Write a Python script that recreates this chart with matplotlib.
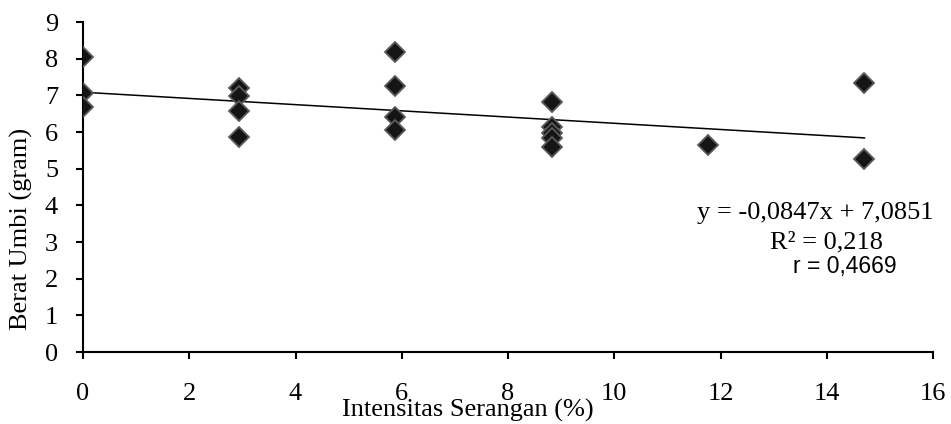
import matplotlib.pyplot as plt

# data
intensitas = [0, 0, 0,
              2.94, 2.94, 2.94, 2.94,
              5.88, 5.88, 5.88, 5.88,
              8.82, 8.82, 8.82, 8.82, 8.82,
              11.76,
              14.71, 14.71]
berat = [8.04, 7.06, 6.68,
         7.19, 6.97, 6.57, 5.86,
         8.17, 7.25, 6.40, 6.05,
         6.81, 6.14, 5.98, 5.84, 5.59,
         5.64,
         7.33, 5.26]

# trendline from the equation on the chart
slope = -0.0847
intercept = 7.0851
x_trend = [min(intensitas), max(intensitas)]
y_trend = [slope * x + intercept for x in x_trend]

xticks = [0, 2, 4, 6, 8, 10, 12, 14, 16]
yticks = [0, 1, 2, 3, 4, 5, 6, 7, 8, 9]

plt.rcParams['font.family'] = ['Liberation Serif', 'DejaVu Serif']

fig = plt.figure(figsize=(9.51, 4.24), dpi=100)
ax = fig.add_axes([0.0873, 0.1698, 0.8938, 0.7783])

ax.plot(x_trend, y_trend, color='black', linewidth=1.1, zorder=2)
ax.plot(intensitas, berat, linestyle='none', marker='D', markersize=9.8,
        markerfacecolor='#151515', markeredgecolor='#5a5a5a',
        markeredgewidth=1.3, zorder=3)

ax.set_xlim(0, 16)
ax.set_ylim(0, 9)
ax.set_xticks(xticks)
ax.set_yticks(yticks)

for s in ['top', 'right']:
    ax.spines[s].set_visible(False)
for s in ['left', 'bottom']:
    ax.spines[s].set_linewidth(1.5)
    ax.spines[s].set_color('black')

ax.tick_params(axis='x', direction='out', length=5, width=1.5, pad=17, labelsize=19)
ax.tick_params(axis='y', direction='out', length=5, width=1.5, pad=13, labelsize=19)

ax.set_xlabel('Intensitas Serangan (%)', fontsize=19)
ax.xaxis.label.set_va('center')
ax.xaxis.set_label_coords(0.453, -0.176)
ax.set_ylabel('Berat Umbi (gram)', fontsize=19)
ax.yaxis.label.set_va('center')
ax.yaxis.set_label_coords(-0.072, 0.373)

ax.text(1.0, 0.42, 'y = -0,0847x + 7,0851', transform=ax.transAxes,
        ha='right', va='center', fontsize=19)
ax.text(0.875, 0.333, 'R² = 0,218', transform=ax.transAxes,
        ha='center', va='center', fontsize=19)
ax.text(0.896, 0.258, 'r = 0,4669', transform=ax.transAxes,
        ha='center', va='center', fontsize=16.5,
        family=['Liberation Sans', 'DejaVu Sans'])

fig.savefig('out.png', dpi=100, facecolor='white')
